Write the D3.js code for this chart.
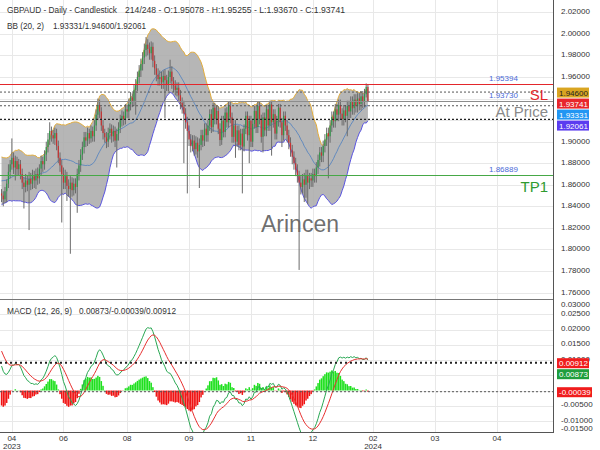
<!DOCTYPE html>
<html><head><meta charset="utf-8">
<script src="https://cdn.jsdelivr.net/npm/d3@7"></script>
<style>body{margin:0;background:#fff}svg{display:block;font-family:"Liberation Sans",Arial,sans-serif}</style>
</head><body><svg id="c" width="600" height="450"></svg>
<script>
// ---------- DATA ----------
const warmupCloses=[1.7850,1.7900,1.7880,1.7950,1.7920,1.8000,1.7980,1.8050,1.8020,1.8100,
1.8080,1.8150,1.8120,1.8200,1.8260,1.8230,1.8300,1.8350,1.8320,1.8400,
1.8450,1.8420,1.8500,1.8560,1.8530,1.8600,1.8650,1.8620,1.8700,1.8750,
1.8720,1.8790,1.8760,1.8820,1.8780,1.8700,1.8650,1.8600,1.8560,1.8520];
const opens=[1.8520,1.8500,1.8465,1.8540,1.8610,1.8720,1.8790,1.8850,1.8760,1.8820,
1.8745,1.8790,1.8700,1.8620,1.8580,1.8640,1.8600,1.8655,1.8610,1.8680,
1.8640,1.8700,1.8660,1.8750,1.8820,1.8790,1.8880,1.8950,1.9020,1.9100,
1.9060,1.9030,1.9080,1.8960,1.8850,1.8780,1.8700,1.8620,1.8680,1.8590,
1.8560,1.8620,1.8550,1.8610,1.8580,1.8700,1.8780,1.8880,1.8950,1.9040,
1.9010,1.9080,1.9030,1.9100,1.9050,1.9150,1.9250,1.9340,1.9280,1.9150,
1.9080,1.9040,1.9000,1.9080,1.9120,1.9050,1.9100,1.9010,1.9070,1.9130,
1.9200,1.9240,1.9210,1.9300,1.9280,1.9350,1.9410,1.9380,1.9480,1.9530,
1.9600,1.9660,1.9720,1.9780,1.9850,1.9900,1.9860,1.9820,1.9880,1.9750,
1.9680,1.9620,1.9580,1.9600,1.9550,1.9610,1.9570,1.9530,1.9600,1.9650,
1.9560,1.9520,1.9480,1.9500,1.9430,1.9360,1.9320,1.9260,1.9180,1.9100,
1.9020,1.8960,1.9010,1.8930,1.8990,1.8910,1.8970,1.9060,1.9010,1.9120,
1.9060,1.9150,1.9255,1.9135,1.9315,1.9210,1.9285,1.9120,1.9015,1.9195,
1.9090,1.9270,1.9180,1.9330,1.9225,1.9045,1.9150,1.9000,1.9105,1.8970,
1.9075,1.8955,1.9120,1.9240,1.9060,1.9195,1.9000,1.9165,1.9285,1.9135,
1.9330,1.9210,1.9045,1.9225,1.9105,1.9300,1.9150,1.9345,1.9180,1.9255,
1.9075,1.9195,1.9315,1.9180,1.9060,1.9240,1.9150,1.9060,1.8990,1.8920,
1.8860,1.8800,1.8740,1.8680,1.8620,1.8580,1.8650,1.8600,1.8690,1.8620,
1.8660,1.8640,1.8700,1.8680,1.8760,1.8830,1.8900,1.8870,1.8960,1.9020,
1.9080,1.9050,1.9150,1.9230,1.9190,1.9300,1.9250,1.9340,1.9260,1.9210,
1.9290,1.9240,1.9330,1.9280,1.9370,1.9310,1.9390,1.9330,1.9400,1.9350,
1.9420,1.9370,1.9440,1.95078];
const highs=[1.8560,1.8540,1.8580,1.8650,1.8790,1.8830,1.9030,1.8900,1.8870,1.8860,
1.8840,1.8830,1.8750,1.8670,1.8700,1.8690,1.8720,1.8710,1.8740,1.8730,
1.8750,1.8760,1.8790,1.8870,1.8860,1.8920,1.9000,1.9080,1.9180,1.9140,
1.9110,1.9130,1.9120,1.9010,1.8900,1.8830,1.8760,1.8740,1.8720,1.8650,
1.8680,1.8670,1.8660,1.8660,1.8750,1.8830,1.8930,1.9000,1.9090,1.9090,
1.9130,1.9120,1.9150,1.9140,1.9200,1.9300,1.9400,1.9390,1.9320,1.9200,
1.9120,1.9090,1.9130,1.9170,1.9160,1.9150,1.9140,1.9120,1.9180,1.9250,
1.9290,1.9280,1.9350,1.9340,1.9400,1.9460,1.9450,1.9530,1.9580,1.9650,
1.9710,1.9770,1.9830,1.9910,1.9970,1.9950,1.9920,1.9930,1.9920,1.9800,
1.9720,1.9680,1.9660,1.9650,1.9660,1.9670,1.9620,1.9660,1.9760,1.9700,
1.9600,1.9570,1.9550,1.9550,1.9480,1.9410,1.9380,1.9310,1.9230,1.9150,
1.9070,1.9060,1.9060,1.9050,1.9040,1.9030,1.9110,1.9110,1.9170,1.9170,
1.9200,1.9300,1.9300,1.9360,1.9360,1.9330,1.9330,1.9170,1.9240,1.9240,
1.9310,1.9320,1.9370,1.9370,1.9270,1.9200,1.9200,1.9150,1.9150,1.9120,
1.9120,1.9160,1.9280,1.9280,1.9240,1.9240,1.9210,1.9330,1.9330,1.9370,
1.9370,1.9250,1.9270,1.9270,1.9340,1.9340,1.9380,1.9380,1.9300,1.9300,
1.9240,1.9350,1.9350,1.9220,1.9280,1.9280,1.9200,1.9110,1.9040,1.8970,
1.8910,1.8850,1.8790,1.8730,1.8680,1.8700,1.8710,1.8740,1.8740,1.8710,
1.8710,1.8750,1.8750,1.8810,1.8880,1.8950,1.8950,1.9010,1.9070,1.9130,
1.9130,1.9200,1.9280,1.9280,1.9350,1.9350,1.9390,1.9390,1.9310,1.9340,
1.9340,1.9380,1.9380,1.9420,1.9420,1.9440,1.9440,1.9450,1.9450,1.9470,
1.9470,1.9490,1.9540,1.95255];
const lows=[1.8440,1.8400,1.8430,1.8440,1.8570,1.8660,1.8740,1.8700,1.8640,1.8690,
1.8690,1.8650,1.8560,1.8380,1.8530,1.8540,1.8180,1.8550,1.8560,1.8570,
1.8560,1.8600,1.8610,1.8690,1.8720,1.8740,1.8820,1.8900,1.8970,1.9000,
1.8980,1.8970,1.8920,1.8800,1.8720,1.8250,1.8560,1.8560,1.8450,1.8490,
1.7960,1.8490,1.8500,1.8520,1.8340,1.8640,1.8720,1.8830,1.8890,1.8950,
1.8960,1.8980,1.8990,1.9000,1.9000,1.9100,1.9200,1.9220,1.9100,1.9020,
1.8990,1.8940,1.8950,1.9020,1.8990,1.9000,1.8950,1.8760,1.9010,1.9080,
1.9140,1.9150,1.9160,1.9220,1.9220,1.9290,1.9320,1.9330,1.9250,1.9470,
1.9540,1.9600,1.9660,1.9720,1.9790,1.9800,1.9760,1.9760,1.9690,1.9620,
1.9560,1.9520,1.9520,1.9490,1.9490,1.9220,1.9470,1.9470,1.9540,1.9490,
1.9460,1.9430,1.9420,1.9380,1.9300,1.9260,1.8800,1.9120,1.8520,1.8960,
1.8900,1.8910,1.8870,1.8880,1.8850,1.8570,1.8920,1.8950,1.8960,1.9000,
1.9000,1.9100,1.9080,1.9090,1.9160,1.9160,1.9070,1.8960,1.8970,1.9040,
1.9040,1.9130,1.9130,1.9170,1.8990,1.8990,1.8850,1.8950,1.8920,1.8920,
1.8520,1.8910,1.9070,1.9010,1.8800,1.8950,1.8950,1.9120,1.9080,1.9080,
1.9160,1.8990,1.8900,1.9050,1.9050,1.9100,1.9100,1.8870,1.9130,1.9020,
1.9020,1.9140,1.9130,1.8950,1.9010,1.9100,1.9000,1.8930,1.8860,1.8790,
1.8740,1.8680,1.8620,1.7810,1.8510,1.8520,1.8440,1.8480,1.8420,1.8560,
1.8580,1.8580,1.8620,1.8620,1.8700,1.8770,1.8810,1.8810,1.8900,1.8960,
1.8660,1.8990,1.9090,1.9130,1.9130,1.9190,1.9190,1.9200,1.9150,1.9150,
1.9180,1.9050,1.9220,1.9220,1.9250,1.9250,1.9270,1.9270,1.9290,1.9290,
1.9310,1.9320,1.9410,1.93670];
const closes=[1.8500,1.8465,1.8540,1.8610,1.8720,1.8790,1.8850,1.8760,1.8820,1.8745,
1.8790,1.8700,1.8620,1.8580,1.8640,1.8600,1.8655,1.8610,1.8680,1.8640,
1.8700,1.8660,1.8750,1.8820,1.8790,1.8880,1.8950,1.9020,1.9100,1.9060,
1.9030,1.9080,1.8960,1.8850,1.8780,1.8700,1.8620,1.8680,1.8590,1.8560,
1.8620,1.8550,1.8610,1.8580,1.8700,1.8780,1.8880,1.8950,1.9040,1.9010,
1.9080,1.9030,1.9100,1.9050,1.9150,1.9250,1.9340,1.9280,1.9150,1.9080,
1.9040,1.9000,1.9080,1.9120,1.9050,1.9100,1.9010,1.9070,1.9130,1.9200,
1.9240,1.9210,1.9300,1.9280,1.9350,1.9410,1.9380,1.9480,1.9530,1.9600,
1.9660,1.9720,1.9780,1.9850,1.9900,1.9860,1.9820,1.9880,1.9750,1.9680,
1.9620,1.9580,1.9600,1.9550,1.9610,1.9570,1.9530,1.9600,1.9650,1.9560,
1.9520,1.9480,1.9500,1.9430,1.9360,1.9320,1.9260,1.9180,1.9100,1.9020,
1.8960,1.9010,1.8930,1.8990,1.8910,1.8970,1.9060,1.9010,1.9120,1.9060,
1.9150,1.9255,1.9135,1.9315,1.9210,1.9285,1.9120,1.9015,1.9195,1.9090,
1.9270,1.9180,1.9330,1.9225,1.9045,1.9150,1.9000,1.9105,1.8970,1.9075,
1.8955,1.9120,1.9240,1.9060,1.9195,1.9000,1.9165,1.9285,1.9135,1.9330,
1.9210,1.9045,1.9225,1.9105,1.9300,1.9150,1.9345,1.9180,1.9255,1.9075,
1.9195,1.9315,1.9180,1.9060,1.9240,1.9150,1.9060,1.8990,1.8920,1.8860,
1.8800,1.8740,1.8680,1.8620,1.8580,1.8650,1.8600,1.8690,1.8620,1.8660,
1.8640,1.8700,1.8680,1.8760,1.8830,1.8900,1.8870,1.8960,1.9020,1.9080,
1.9050,1.9150,1.9230,1.9190,1.9300,1.9250,1.9340,1.9260,1.9210,1.9290,
1.9240,1.9330,1.9280,1.9370,1.9310,1.9390,1.9330,1.9400,1.9350,1.9420,
1.9370,1.9440,1.95078,1.93741];

const priceTicks=[1.76,1.78,1.80,1.82,1.84,1.86,1.88,1.90,1.96,1.98,2.00,2.02]; // 1.92 / 1.94 lie under value boxes
const macdTicks=[-0.015,-0.01,-0.005,0.01,0.015,0.02,0.025,0.03];            // 0 / 0.005 lie under value boxes
const gridPrice=[1.76,1.78,1.80,1.82,1.84,1.86,1.88,1.90,1.92,1.94,1.96,1.98,2.00,2.02];
const gridMacd=[-0.01,-0.005,0,0.005,0.01,0.015,0.02,0.025];
const xTickIdx=[6,36,73,109,145,181,216,252,288];
const xTickLabels=["04","06","08","09","11","12","02","03","04"];
const xTickYears=["2023","","","","","","2024","",""];

const levelValues=[1.95394,1.93730,1.86889];
const levelNames=["SL","At Price","TP1"];
const levelColors=["#e3262b","#8c8c8c","#46a846"];
const levelNameColors=["#e3262b","#8a8a8a","#2f9a2f"];

const bbLast=[1.94600,1.93331,1.92061];          // upper / middle / lower
const priceBoxValues=[1.94600,1.93741,1.93331,1.92061];
const priceBoxColors=["#d9a521","#e8262b","#2196f3","#5b3cf0"];
const priceBoxText=["#222","#fff","#fff","#fff"];
const macdBoxValues=[0.00912,0.00873,-0.00039];
const macdBoxColors=["#f01c1c","#1f9e3c","#f01c1c"];

const headers=[
 ["GBPAUD - Daily - Candlestick",7,13,110],
 ["214/248 - O:1.95078 - H:1.95255 - L:1.93670 - C:1.93741",125,13,220],
 ["BB (20, 2)",7,29,37],
 ["1.93331/1.94600/1.92061",53,29,93],
 ["MACD (12, 26, 9)",7,314,65],
 ["0.00873/-0.00039/0.00912",79,314,97]
];

// ---------- INDICATORS ----------
const W=warmupCloses.length;
const all=warmupCloses.concat(closes);
function ema(arr,n){const k=2/(n+1);let e=arr[0];return arr.map((v,i)=>{e=i===0?v:v*k+e*(1-k);return e;});}
const e12=ema(all,12),e26=ema(all,26);
const macdAll=all.map((v,i)=>e12[i]-e26[i]);
const sigAll=ema(macdAll,9);
const macd=closes.map((c,i)=>({i,m:macdAll[i+W],s:sigAll[i+W],h:macdAll[i+W]-sigAll[i+W]}));
const bb=closes.map((c,i)=>{const j=i+W;const w=all.slice(j-19,j+1);const m=d3.mean(w);const sd=Math.sqrt(d3.mean(w,v=>(v-m)*(v-m)));return {i,m,u:m+2*sd,l:m-2*sd};});

// ---------- LAYOUT ----------
const svg=d3.select("#c");
const plotR=553, topT=0, topB=299, macT=299, macB=432;
const x=d3.scaleLinear().domain([-0.9,320.6]).range([0,plotR]);
const y=d3.scaleLinear().domain([1.75404,2.03141]).range([topB,topT]);
const ym=d3.scaleLinear().domain([-0.0136,0.030]).range([macB,macT]);

svg.append("rect").attr("width",600).attr("height",450).attr("fill","#fff");
const defs=svg.append("defs");
defs.append("clipPath").attr("id","cpTop").append("rect").attr("x",0).attr("y",topT).attr("width",plotR).attr("height",topB-topT);
defs.append("clipPath").attr("id","cpMac").append("rect").attr("x",0).attr("y",macT).attr("width",plotR).attr("height",macB-macT);

// grid
const grid=svg.append("g").attr("stroke","#e8e8e8").attr("stroke-width",1);
grid.selectAll(".gv").data(xTickIdx).join("line").attr("x1",d=>Math.round(x(d))+0.5).attr("x2",d=>Math.round(x(d))+0.5).attr("y1",0).attr("y2",macB);
grid.selectAll(".gh").data(gridPrice).join("line").attr("x1",0).attr("x2",plotR).attr("y1",d=>Math.round(y(d))+0.5).attr("y2",d=>Math.round(y(d))+0.5);
grid.selectAll(".gm").data(gridMacd).join("line").attr("x1",0).attr("x2",plotR).attr("y1",d=>Math.round(ym(d))+0.5).attr("y2",d=>Math.round(ym(d))+0.5);

// watermark
svg.append("text").attr("x",300).attr("y",232).attr("text-anchor","middle").attr("font-size",23).attr("fill","#555").attr("fill-opacity",0.85).text("Arincen");

// ---------- TOP PANEL ----------
const topG=svg.append("g").attr("clip-path","url(#cpTop)");
topG.append("path").datum(bb).attr("fill","#a9a9a9").attr("fill-opacity",0.85)
  .attr("d",d3.area().x(d=>x(d.i)).y0(d=>y(d.l)).y1(d=>y(d.u)));
topG.append("path").datum(bb).attr("fill","none").attr("stroke","#e3ad3c").attr("stroke-width",1)
  .attr("d",d3.line().x(d=>x(d.i)).y(d=>y(d.u)));
topG.append("path").datum(bb).attr("fill","none").attr("stroke","#5a55e0").attr("stroke-width",1)
  .attr("d",d3.line().x(d=>x(d.i)).y(d=>y(d.l)));
topG.append("path").datum(bb).attr("fill","none").attr("stroke","#4d7fc0").attr("stroke-width",0.8)
  .attr("d",d3.line().x(d=>x(d.i)).y(d=>y(d.m)));

// candles
const cg=topG.append("g");
closes.forEach((c,i)=>{
  const o=opens[i],xc=x(i);
  cg.append("line").attr("x1",xc).attr("x2",xc).attr("y1",y(highs[i])).attr("y2",y(lows[i])).attr("stroke","#6b6b6b").attr("stroke-width",1);
  const yt=y(Math.max(o,c)),yb=y(Math.min(o,c));
  cg.append("rect").attr("x",xc-0.6).attr("width",1.2).attr("y",yt).attr("height",Math.max(0.8,yb-yt)).attr("fill",c>=o?"#2e9a48":"#c83232");
});

// BB last value dotted lines
const dl=topG.append("g");
[[bbLast[0],"#555",1,"2,2"],[bbLast[1],"#555",1,"2,2"],[bbLast[2],"#222",1.3,"2,2"]].forEach(([v,col,w,da])=>{
  dl.append("line").attr("x1",0).attr("x2",plotR).attr("y1",y(v)).attr("y2",y(v)).attr("stroke",col).attr("stroke-width",w).attr("stroke-dasharray",da);
});
// level lines
levelValues.forEach((v,k)=>{
  topG.append("line").attr("x1",0).attr("x2",plotR).attr("y1",Math.round(y(v))+0.5).attr("y2",Math.round(y(v))+0.5).attr("stroke",levelColors[k]).attr("stroke-width",1);
  svg.append("text").attr("x",489).attr("y",y(v)-3).attr("font-size",8).attr("fill","#4a6ad8").text(v.toFixed(5));
});
svg.append("text").attr("x",548).attr("y",y(levelValues[0])+16).attr("text-anchor","end").attr("font-size",15).attr("fill",levelNameColors[0]).text(levelNames[0]);
svg.append("text").attr("x",548).attr("y",y(levelValues[1])+16).attr("text-anchor","end").attr("font-size",15).attr("fill",levelNameColors[1]).text(levelNames[1]);
svg.append("text").attr("x",548).attr("y",y(levelValues[2])+17).attr("text-anchor","end").attr("font-size",15).attr("fill",levelNameColors[2]).text(levelNames[2]);

// ---------- MACD PANEL ----------
const mg=svg.append("g").attr("clip-path","url(#cpMac)");
mg.selectAll(".hb").data(macd).join("rect")
  .attr("x",d=>x(d.i)-0.75).attr("width",1.5)
  .attr("y",d=>Math.min(ym(d.h),ym(0))).attr("height",d=>Math.abs(ym(d.h)-ym(0)))
  .attr("fill",d=>d.h>=0?"#1ee01e":"#f01414");
mg.append("path").datum(macd).attr("fill","none").attr("stroke","#2aa854").attr("stroke-width",1)
  .attr("d",d3.line().x(d=>x(d.i)).y(d=>ym(d.m)));
mg.append("path").datum(macd).attr("fill","none").attr("stroke","#e83030").attr("stroke-width",1)
  .attr("d",d3.line().x(d=>x(d.i)).y(d=>ym(d.s)));
mg.append("line").attr("x1",0).attr("x2",plotR).attr("y1",ym(macdBoxValues[0])).attr("y2",ym(macdBoxValues[0])).attr("stroke","#222").attr("stroke-width",2).attr("stroke-dasharray","2,3");
mg.append("line").attr("x1",0).attr("x2",plotR).attr("y1",ym(macdBoxValues[2])).attr("y2",ym(macdBoxValues[2])).attr("stroke","#555").attr("stroke-width",1).attr("stroke-dasharray","2,2");

// ---------- AXES / FRAME ----------
svg.append("line").attr("x1",0).attr("x2",plotR).attr("y1",topB+0.5).attr("y2",topB+0.5).attr("stroke","#777");
svg.append("line").attr("x1",plotR+0.5).attr("x2",plotR+0.5).attr("y1",0).attr("y2",macB).attr("stroke","#555");
svg.append("line").attr("x1",0).attr("x2",plotR+1).attr("y1",macB+0.5).attr("y2",macB+0.5).attr("stroke","#555");

const axT=svg.append("g").attr("font-size",8).attr("fill","#333");
axT.selectAll("text").data(priceTicks).join("text").attr("x",561).attr("y",d=>y(d)+2).text(d=>d.toFixed(5));
const axM=svg.append("g").attr("font-size",8).attr("fill","#333");
axM.selectAll("text").data(macdTicks).join("text").attr("x",561)
  .attr("y",d=>Math.max(307,Math.min(431,ym(d)+1.5))).text(d=>d.toFixed(5));

const axX=svg.append("g").attr("font-size",8).attr("fill","#333").attr("text-anchor","middle");
axX.selectAll(".t").data(xTickIdx).join("text").attr("x",d=>x(d)).attr("y",441).text((d,k)=>xTickLabels[k]);
axX.selectAll(".yr").data(xTickIdx.filter((d,k)=>xTickYears[k])).join("text").attr("x",d=>x(d)).attr("y",449)
  .text(d=>xTickYears[xTickIdx.indexOf(d)]);

// value boxes
function boxes(vals,scale,colors,textCols){
  let prev=-1e9;
  vals.forEach((v,k)=>{
    let cy=Math.max(scale(v)+0.5,prev+11);prev=cy;
    const w=v<0?35:32;
    svg.append("rect").attr("x",557).attr("y",cy-5).attr("width",w).attr("height",10).attr("fill",colors[k]);
    svg.append("text").attr("x",559).attr("y",cy+3).attr("font-size",8).attr("fill",textCols?textCols[k]:"#fff").text(v.toFixed(5));
  });
}
boxes(priceBoxValues,y,priceBoxColors,priceBoxText);
boxes(macdBoxValues,ym,macdBoxColors,null);

// headers
headers.forEach(([t,hx,hy,len])=>{
  svg.append("text").attr("x",hx).attr("y",hy).attr("font-size",8.5).attr("fill","#333")
    .attr("textLength",len).attr("lengthAdjust","spacingAndGlyphs").text(t);
});
</script></body></html>
